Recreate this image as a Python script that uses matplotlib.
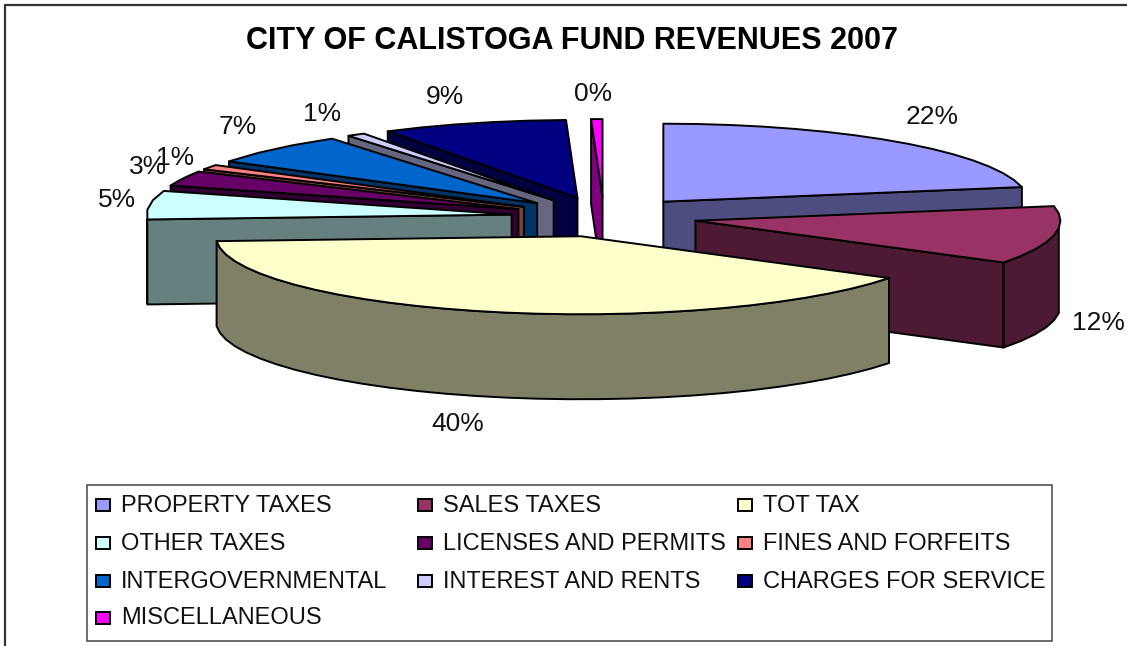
import numpy as np
import matplotlib
matplotlib.use("Agg")
import matplotlib.pyplot as plt
from matplotlib.patches import Rectangle

plt.rcParams['font.family'] = ['Liberation Sans', 'DejaVu Sans']

title = "CITY OF CALISTOGA FUND REVENUES 2007"
categories = ["PROPERTY TAXES", "SALES TAXES", "TOT TAX", "OTHER TAXES",
              "LICENSES AND PERMITS", "FINES AND FORFEITS", "INTERGOVERNMENTAL",
              "INTEREST AND RENTS", "CHARGES FOR SERVICE", "MISCELLANEOUS"]
values = [22.0, 12.0, 40.0, 5.9, 3.1, 1.0, 6.5, 0.8, 8.2, 0.5]
percent_labels = ["22%", "12%", "40%", "5%", "3%", "1%", "7%", "1%", "9%", "0%"]
colors = ["#9999FF", "#993366", "#FFFFCC", "#CCFFFF", "#660066",
          "#FF8080", "#0066CC", "#CCCCFF", "#000080", "#FF00FF"]
label_pos = [(932, 117), (1098, 323), (458, 424), (117, 200), (148, 167),
             (175, 158), (238, 127), (322, 114), (445, 97), (593, 94)]
legend_pos = [(103, 505), (425, 505), (745, 505), (103, 543), (425, 543),
              (745, 543), (103, 581), (425, 581), (745, 581), (103, 618)]

CX, CY, RX, RY, DEPTH, EXPLODE = 604, 217, 365, 78, 85, 0.255

fig = plt.figure(figsize=(11.27, 6.46), dpi=100)
ax = fig.add_axes([0, 0, 1, 1])
ax.set_xlim(0, 1127)
ax.set_ylim(646, 0)
ax.axis("off")

ax.plot([5, 5, 1127], [646, 5, 5], color="#333333", lw=1.6)


def darker(c):
    r = matplotlib.colors.to_rgb(c)
    return tuple(v * 0.5 for v in r)


total = sum(values)
edges = np.cumsum([0] + values) / total * 2 * np.pi
order = sorted(range(len(values)),
               key=lambda i: -np.cos((edges[i] + edges[i + 1]) / 2))
for z, i in enumerate(order):
    a, b = edges[i], edges[i + 1]
    m = (a + b) / 2
    ax_, ay_ = CX + EXPLODE * RX * np.sin(m), CY - EXPLODE * RY * np.cos(m)
    t = np.linspace(a, b, max(4, int((b - a) * 12)))
    xs, ys = ax_ + RX * np.sin(t), ay_ - RY * np.cos(t)
    dark = darker(colors[i])
    kw = dict(edgecolor="black", linewidth=1.4, zorder=2 + z, joinstyle="round")
    if np.sin(a) < 0:
        ax.fill([ax_, xs[0], xs[0], ax_],
                [ay_, ys[0], ys[0] + DEPTH, ay_ + DEPTH], facecolor=dark, **kw)
    if np.sin(b) > 0:
        ax.fill([ax_, xs[-1], xs[-1], ax_],
                [ay_, ys[-1], ys[-1] + DEPTH, ay_ + DEPTH], facecolor=dark, **kw)
    front = np.cos(t) < 0
    if front.any():
        fx, fy = xs[front], ys[front]
        ax.fill(np.r_[fx, fx[::-1]], np.r_[fy, fy[::-1] + DEPTH], facecolor=dark, **kw)
    ax.fill(np.r_[ax_, xs], np.r_[ay_, ys], facecolor=colors[i], **kw)

for s, (x, y) in zip(percent_labels, label_pos):
    ax.text(x, y, s, ha="center", va="center", fontsize=19, color="#111111", zorder=50)

ax.text(572, 41, title, ha="center", va="center", fontsize=22, fontweight="bold", zorder=50)

ax.add_patch(Rectangle((87, 485), 965, 155.5, facecolor="white", edgecolor="#444444", lw=1.1, zorder=40))
for name, c, (x, y) in zip(categories, colors, legend_pos):
    ax.add_patch(Rectangle((x - 7, y - 6), 14, 12, facecolor=c, edgecolor="black", lw=1.4, zorder=41))
    ax.text(x + 18, y + 0.5, name, ha="left", va="center", fontsize=17, color="#111111", zorder=42)

fig.savefig("out.png", dpi=100)
